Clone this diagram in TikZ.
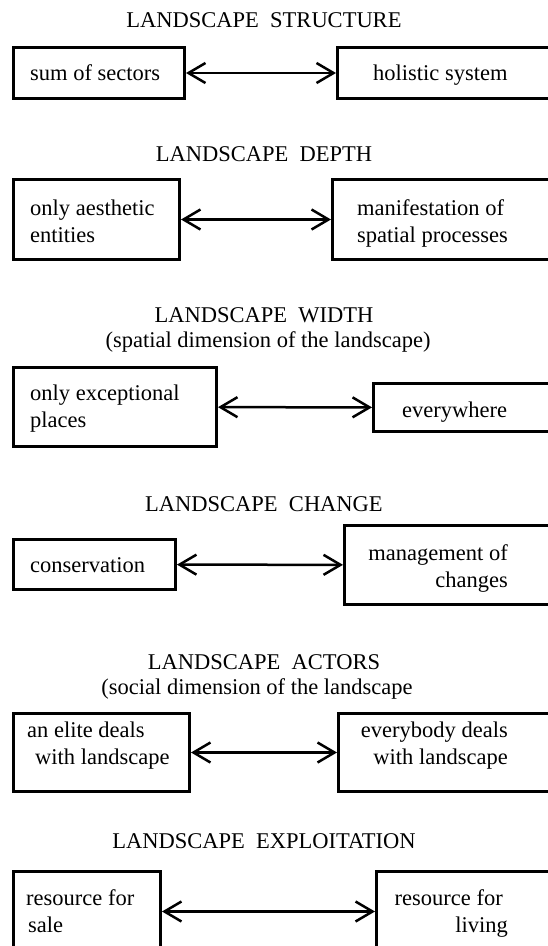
\documentclass[tikz,border=0pt]{standalone}
\usepackage{fontspec}
\setmainfont{Liberation Serif}
\usetikzlibrary{arrows.meta}
\begin{document}
\begin{tikzpicture}[x=1pt,y=-1pt,
  box/.style={draw, line width=3pt, rectangle, inner sep=0pt, anchor=north west},
  txt/.style={inner sep=0pt, font=\fontsize{22.5}{27}\selectfont, align=left},
  ttl/.style={inner sep=0pt, font=\fontsize{22.5}{27}\selectfont, anchor=base},
  arr/.style={line width=2.5pt, {Straight Barb[length=17pt,width=20pt]}-{Straight Barb[length=17pt,width=20pt]}}]
\useasboundingbox (0,0) rectangle (548,946);

% 1
\node[ttl] (h1) at (264,27) {LANDSCAPE\ \ STRUCTURE};
\node[box, minimum width=171pt, minimum height=51pt] (b1l) at (12,46) {};
\node[box, minimum width=224pt, minimum height=51pt] (b1r) at (336,46) {};
\node[txt, anchor=base west] (t1l) at (30,80) {sum of sectors};
\node[txt, anchor=base west] (t1r) at (373,80) {holistic system};
\draw[arr] (b1l) -- (b1r);

% 2
\node[ttl] (h2) at (264,161) {LANDSCAPE\ \ DEPTH};
\node[box, minimum width=166pt, minimum height=80pt] (b2l) at (12,178) {};
\node[box, minimum width=229pt, minimum height=80pt] (b2r) at (331,178) {};
\node[txt, anchor=base west] (t2l) at (30,242) {only aesthetic\\entities};
\node[txt, anchor=base west] (t2r) at (357,242) {manifestation of\\spatial processes};
\draw[arr] (b2l) -- (b2r);

% 3
\node[ttl] (h3) at (264,322) {LANDSCAPE\ \ WIDTH};
\node[ttl] (s3) at (268,347) {(spatial dimension of the landscape)};
\node[box, minimum width=203pt, minimum height=79pt] (b3l) at (12,366) {};
\node[box, minimum width=188pt, minimum height=48pt] (b3r) at (372,382) {};
\node[txt, anchor=base west] (t3l) at (30,427) {only exceptional\\places};
\node[txt, anchor=base west] (t3r) at (402,417) {everywhere};
\draw[arr] (b3l) -- (b3r);

% 4
\node[ttl] (h4) at (264,511) {LANDSCAPE\ \ CHANGE};
\node[box, minimum width=162pt, minimum height=50pt] (b4l) at (12,538) {};
\node[box, minimum width=217pt, minimum height=79pt] (b4r) at (343,524) {};
\node[txt, anchor=base west] (t4l) at (30,572) {conservation};
\node[txt, align=right, anchor=base east] (t4r) at (508,587) {management of\\changes};
\draw[arr] (b4l) -- (b4r);

% 5
\node[ttl] (h5) at (264,669) {LANDSCAPE\ \ ACTORS};
\node[ttl] (s5) at (257,694) {(social dimension of the landscape};
\node[box, minimum width=176pt, minimum height=78pt] (b5l) at (12,712) {};
\node[box, minimum width=223pt, minimum height=78pt] (b5r) at (337,712) {};
\node[txt, anchor=base west] (t5l) at (27,764) {an elite deals\\\hspace*{8pt}with landscape};
\node[txt, align=right, anchor=base east] (t5r) at (508,764) {everybody deals\\with landscape};
\draw[arr] (b5l) -- (b5r);

% 6
\node[ttl] (h6) at (264,848) {LANDSCAPE\ \ EXPLOITATION};
\node[box, minimum width=147pt, minimum height=80pt] (b6l) at (12,870) {};
\node[box, minimum width=185pt, minimum height=80pt] (b6r) at (375,870) {};
\node[txt, anchor=base west] (t6l) at (26,932) {resource for\\\hspace*{2pt}sale};
\node[txt, align=right, anchor=base east] (t6r) at (508,932) {resource for\hspace*{5pt}\\living};
\draw[arr] (b6l) -- (b6r);
\end{tikzpicture}
\end{document}
